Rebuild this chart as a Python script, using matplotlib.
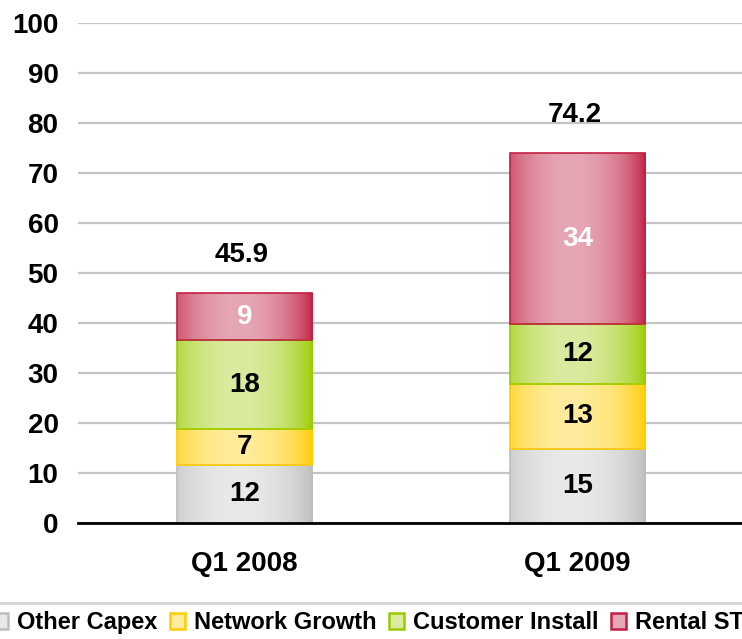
import numpy as np
import matplotlib
matplotlib.use("Agg")
import matplotlib.pyplot as plt
from matplotlib.patches import Patch, Rectangle
from matplotlib.colors import to_rgb

# ---- data ----
categories = ["Q1 2008", "Q1 2009"]
series_names = ["Other Capex", "Network Growth", "Customer Install", "Rental STB"]
other_capex = [11.7, 14.8]
network_growth = [7.1, 13.1]
customer_install = [17.8, 11.9]
rental_stb = [9.4, 34.1]
totals = [45.9, 74.2]
yticks = [0, 10, 20, 30, 40, 50, 60, 70, 80, 90, 100]

series = [other_capex, network_growth, customer_install, rental_stb]
edge_colors = ["#BDBDBD", "#FFCC00", "#99CC00", "#C21F43"]
light_colors = ["#E9E9E9", "#FFEC9C", "#DAEBA0", "#E6A7B5"]
label_colors = ["black", "black", "black", "white"]

plt.rcParams["font.family"] = ["Liberation Sans", "DejaVu Sans"]
plt.rcParams["font.weight"] = "bold"

fig = plt.figure(figsize=(7.42, 6.39), dpi=100)
ax = fig.add_axes([78 / 742, 116 / 639, 666 / 742, 500 / 639])

x = np.arange(len(categories))
bar_w = 0.408

# gradient profile
N = 200
t = np.linspace(0, 1, N)
w = np.clip(1 - ((t - 0.45) / 0.55) ** 2, 0, 1) ** 0.8

bottoms = np.zeros(len(categories))
for s_idx, vals in enumerate(series):
    ec = np.array(to_rgb(edge_colors[s_idx]))
    lc = np.array(to_rgb(light_colors[s_idx]))
    grad = (ec[None, :] * (1 - w[:, None]) + lc[None, :] * w[:, None])[None, :, :]
    for i, v in enumerate(vals):
        x0 = x[i] - bar_w / 2
        x1 = x[i] + bar_w / 2
        y0 = bottoms[i]
        y1 = bottoms[i] + v
        ax.imshow(grad, extent=(x0, x1, y0, y1), aspect="auto",
                  interpolation="bilinear", zorder=3, origin="lower")
        ax.add_patch(Rectangle((x0, y0), bar_w, v, fill=False,
                               edgecolor=edge_colors[s_idx], lw=1.2, zorder=4))
        ax.text(x[i], y0 + v / 2, f"{v:.0f}", ha="center", va="center",
                fontsize=20, fontweight="bold", color=label_colors[s_idx], zorder=5)
    bottoms += np.array(vals)

for i, tot in enumerate(totals):
    ax.annotate(f"{tot:.1f}", xy=(x[i], bottoms[i]), xytext=(-3, 25),
                textcoords="offset pixels", ha="center", va="bottom",
                fontsize=20, fontweight="bold", color="black", zorder=5)

ax.set_xlim(-0.5, 1.5)
ax.set_ylim(0, 100)
ax.set_yticks(yticks)
ax.set_yticklabels([str(v) for v in yticks], fontsize=20, fontweight="bold")
ax.set_xticks(x)
ax.set_xticklabels(categories, fontsize=20, fontweight="bold")
ax.tick_params(axis="y", length=0, pad=14)
ax.tick_params(axis="x", length=0, pad=20)

ax.grid(axis="y", color="#C4C4C4", lw=1.6, zorder=0)
ax.set_axisbelow(True)
for sp in ["left", "right", "top"]:
    ax.spines[sp].set_visible(False)
ax.spines["bottom"].set_color("black")
ax.spines["bottom"].set_linewidth(2)
ax.spines["bottom"].set_zorder(6)

handles = [Patch(facecolor=light_colors[k], edgecolor=edge_colors[k], lw=1.8, label=series_names[k])
           for k in range(4)]
leg = fig.legend(handles=handles, loc="upper center", bbox_to_anchor=(0.508, 1 - 603 / 639),
                 ncol=4, frameon=True, fancybox=False, fontsize=17,
                 handlelength=0.64, handleheight=0.64, handletextpad=0.38,
                 columnspacing=0.52, borderpad=0.35, borderaxespad=0)
leg.get_frame().set_edgecolor("#C8C8C8")
leg.get_frame().set_linewidth(2)
for txt in leg.get_texts():
    txt.set_fontweight("bold")

fig.savefig("out.png", dpi=100)
